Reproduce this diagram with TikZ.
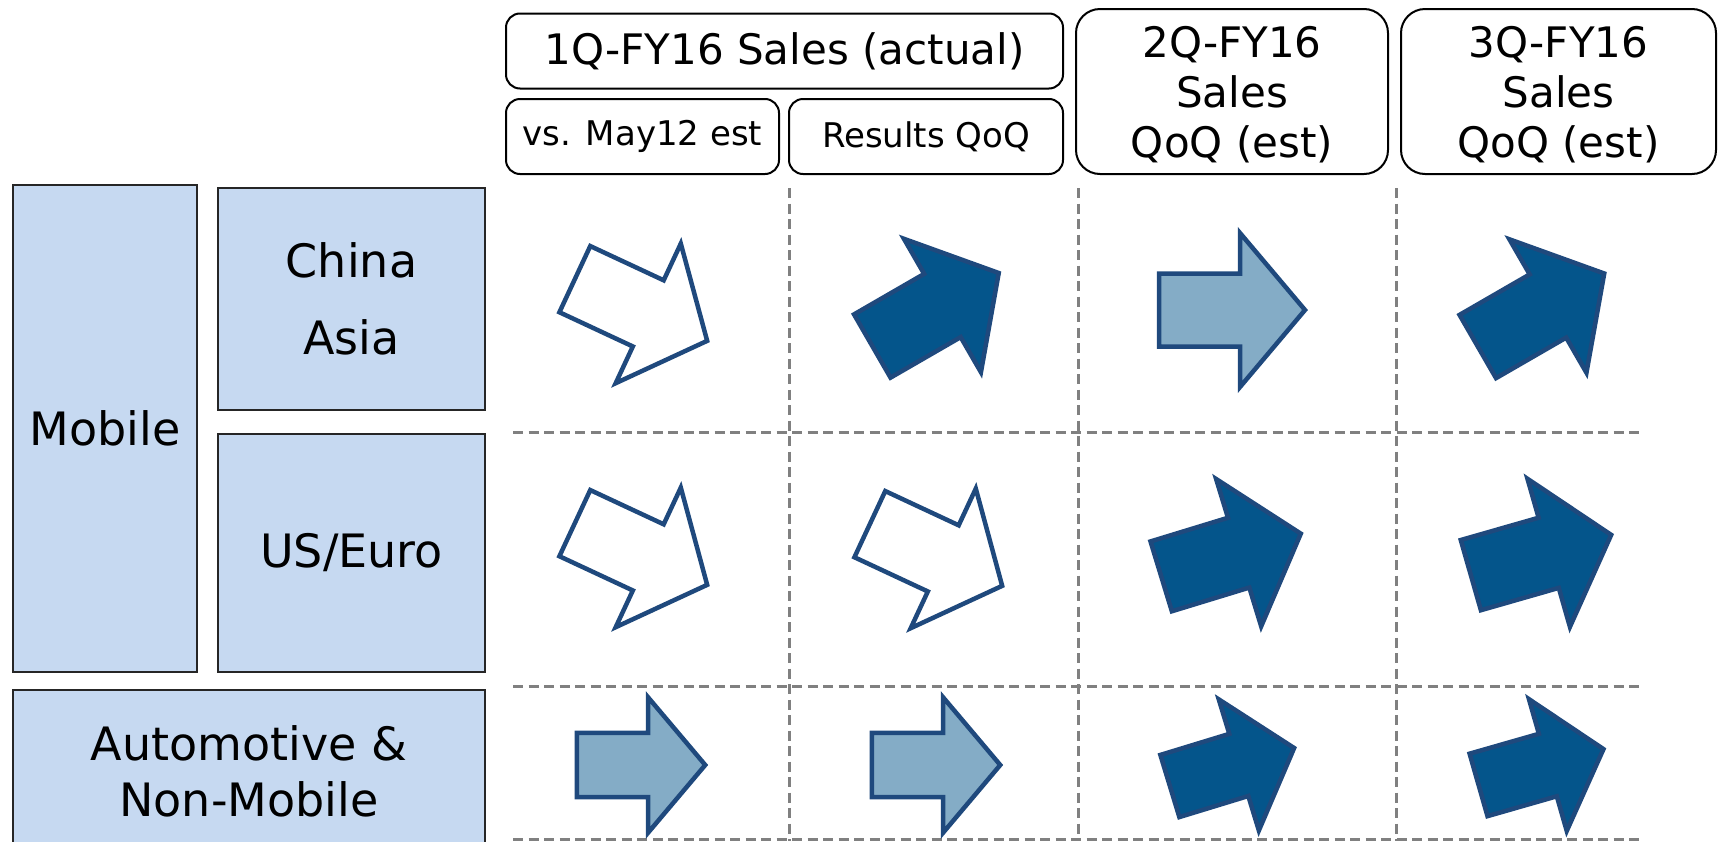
\documentclass[tikz,border=0pt]{standalone}
\usepackage{fontspec}
\setmainfont{DejaVu Sans}
\definecolor{cellblue}{HTML}{C6D9F1}
\definecolor{arrowdark}{HTML}{04558B}
\definecolor{arrowlight}{HTML}{84ACC6}
\definecolor{arrowline}{HTML}{1F497D}
\definecolor{gridgray}{HTML}{808080}
\begin{document}
\begin{tikzpicture}[x=1pt, y=-1pt,
    hdr/.style={draw, line width=2pt, rounded corners=14pt, fill=white, align=center, inner sep=0pt, font=\fontsize{42}{50}\selectfont},
    subhdr/.style={hdr, font=\fontsize{34}{40}\selectfont},
    cell/.style={draw=black!85, line width=2pt, fill=cellblue, align=center, inner sep=0pt},
    grid/.style={draw=gridgray, line width=3pt, dash pattern=on 10pt off 5.5pt},
    trend/.pic={\draw[pic actions] (-73,-36.5) -- (8,-36.5) -- (8,-77) -- (73,0) -- (8,77) -- (8,36.5) -- (-73,36.5) -- cycle;},
    trendwhite/.style={draw=arrowline, fill=white, line width=4.5pt, line join=miter},
    trenddark/.style={draw=arrowline, fill=arrowdark, line width=4.5pt, line join=miter},
    trendlight/.style={draw=arrowline, fill=arrowlight, line width=4.5pt, line join=miter}]
    \useasboundingbox (0,0) rectangle (1718,841);

    % Grid
    \draw[grid] (513,432) -- (1644,432);
    \draw[grid] (513,686) -- (1644,686);
    \draw[grid] (513,839) -- (1644,839);
    \draw[grid] (789,188) -- (789,841);
    \draw[grid] (1078,188) -- (1078,841);
    \draw[grid] (1396,188) -- (1396,841);

    % Column heads
    \node[hdr, minimum width=557pt, minimum height=75pt] at (784.5,51) (q1) {1Q-FY16 Sales (actual)};
    \node[subhdr, minimum width=273pt, minimum height=75pt] at (642.5,136.5) (q1est) {vs. May12 est};
    \node[subhdr, minimum width=274pt, minimum height=75pt] at (926,136.5) (q1res) {Results QoQ};
    \node[hdr, rounded corners=24pt, minimum width=312pt, minimum height=165pt, text depth=-6pt] at (1232,91.5) (q2) {2Q-FY16\\Sales\\QoQ (est)};
    \node[hdr, rounded corners=24pt, minimum width=315pt, minimum height=165pt, text depth=-6pt] at (1558.5,91.5) (q3) {3Q-FY16\\Sales\\QoQ (est)};

    % Row heads
    \node[cell, minimum width=184pt, minimum height=487pt, font=\fontsize{46}{56}\selectfont] at (105,428.5) (mobile) {Mobile};
    \node[cell, minimum width=267pt, minimum height=222pt, font=\fontsize{46}{77}\selectfont] at (351.5,299) (china) {China\\Asia};
    \node[cell, minimum width=267pt, minimum height=238pt, font=\fontsize{46}{56}\selectfont] at (351.5,553) (useuro) {US/Euro};
    \node[cell, minimum width=472pt, minimum height=162pt, font=\fontsize{46}{56}\selectfont] at (249,771) (auto) {Automotive \&\\Non-Mobile};

    % Trend arrows
    \pic[trendwhite, rotate=-25] at (641,310) {trend};
    \pic[trenddark, rotate=30] at (935.5,309.5) {trend};
    \pic[trendlight] at (1232,310) {trend};
    \pic[trenddark, rotate=30] at (1541,310) {trend};

    \pic[trendwhite, rotate=-25] at (641,554) {trend};
    \pic[trendwhite, rotate=-25] at (936,555) {trend};
    \pic[trenddark, rotate=17] at (1231,555) {trend};
    \pic[trenddark, rotate=16] at (1541,555) {trend};

    \pic[trendlight, scale=0.88] at (641,765) {trend};
    \pic[trendlight, scale=0.88] at (936,765) {trend};
    \pic[trenddark, rotate=17, scale=0.89] at (1232,767) {trend};
    \pic[trenddark, rotate=16, scale=0.89] at (1541,767) {trend};

\end{tikzpicture}
\end{document}
